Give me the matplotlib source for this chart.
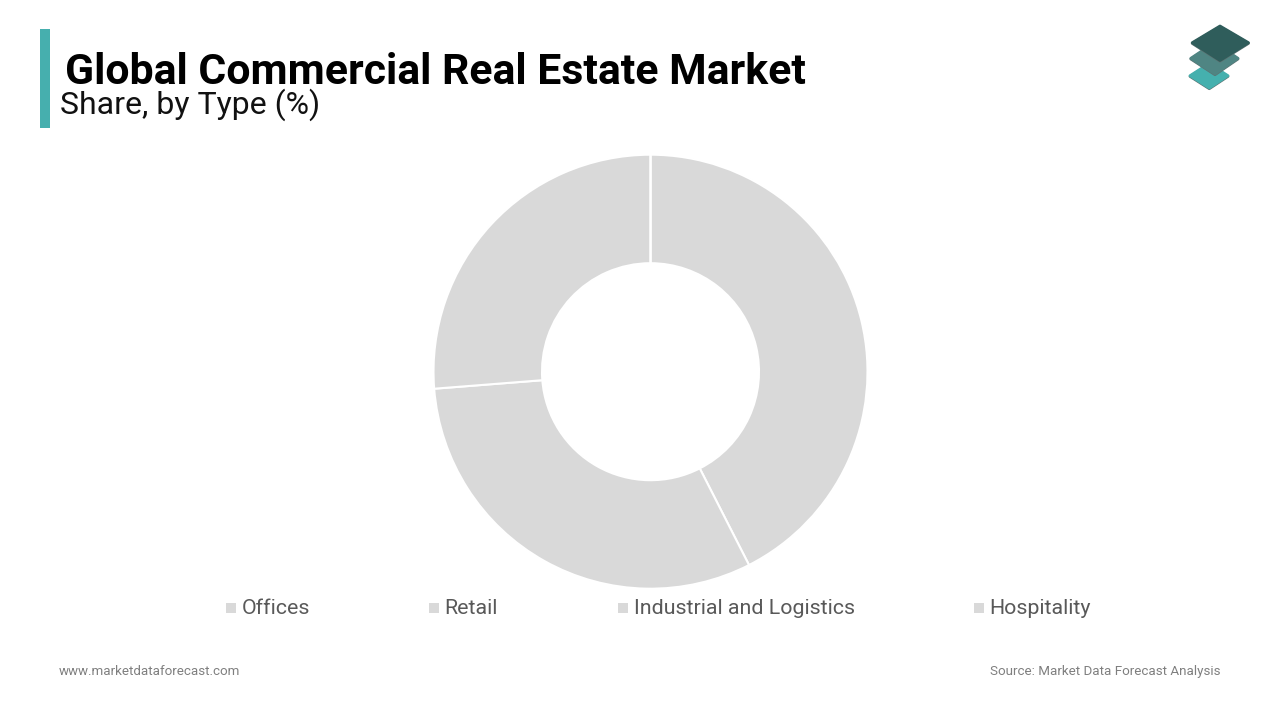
import matplotlib
matplotlib.use("Agg")
import matplotlib.pyplot as plt
from matplotlib.patches import Polygon, Rectangle

categories = ["Offices", "Retail", "Industrial and Logistics", "Hospitality"]
shares = [42.5, 31.25, 26.25, 0.0]
slice_color = "#D9D9D9"
title = "Global Commercial Real Estate Market"
subtitle = "Share, by Type (%)"
footer_left = "www.marketdataforecast.com"
footer_right = "Source: Market Data Forecast Analysis"

W, H = 1280, 720
plt.rcParams["font.family"] = ["Roboto", "DejaVu Sans"]
fig = plt.figure(figsize=(W / 100, H / 100), dpi=100, facecolor="white")

# page overlay in pixel coordinates
bg = fig.add_axes([0, 0, 1, 1])
bg.set_xlim(0, W)
bg.set_ylim(H, 0)
bg.axis("off")
bg.add_patch(Rectangle((40, 29), 10, 99, color="#46AFAE", lw=0))
bg.text(65, 72, title, fontsize=30.82, fontweight="bold", color="black", va="center", ha="left")
bg.text(60, 105, subtitle, fontsize=23.05, color="#111111", va="center", ha="left")
bg.text(59, 671.5, footer_left, fontsize=9.6, color="#7F7F7F", va="center", ha="left")
bg.text(1220, 671.5, footer_right, fontsize=9.6, color="#7F7F7F", va="center", ha="right")


def rhomb(points, color):
    shadow = [(x, y + 0.7) for x, y in points]
    bg.add_patch(Polygon(shadow, facecolor="#5E7272", edgecolor="#5E7272", lw=2, joinstyle="round"))
    bg.add_patch(Polygon(points, facecolor=color, edgecolor=color, lw=2, joinstyle="round"))


# logo
rhomb([(1209, 63.5), (1228, 75.7), (1209.3, 88), (1190, 75.7)], "#45B0AE")
rhomb([(1214.5, 42.5), (1238, 58.3), (1215, 74), (1190.8, 58.3)], "#4F8583")
rhomb([(1220, 26), (1248.5, 42.7), (1220, 60.5), (1192.2, 42.7)], "#2F5D5B")

# legend
legend_square_x = [226, 429, 618, 974]
legend_text_x = [242, 444.5, 634, 989.5]
for name, sx, tx in zip(categories, legend_square_x, legend_text_x):
    bg.add_patch(Rectangle((sx, 603), 10, 10, color=slice_color, lw=0))
    bg.text(tx, 609, name, fontsize=15.4, color="#595959", va="center", ha="left")

# donut
cx, cy, R = 650.5, 371.7, 217
ax = fig.add_axes([(cx - R) / W, 1 - (cy + R) / H, 2 * R / W, 2 * R / H])
ax.pie(shares, startangle=90, counterclock=False, radius=1, colors=[slice_color] * 4,
       wedgeprops=dict(width=0.5, edgecolor="white", linewidth=1.5))
ax.set_xlim(-1, 1)
ax.set_ylim(-1, 1)

fig.savefig("out.png", dpi=100)
